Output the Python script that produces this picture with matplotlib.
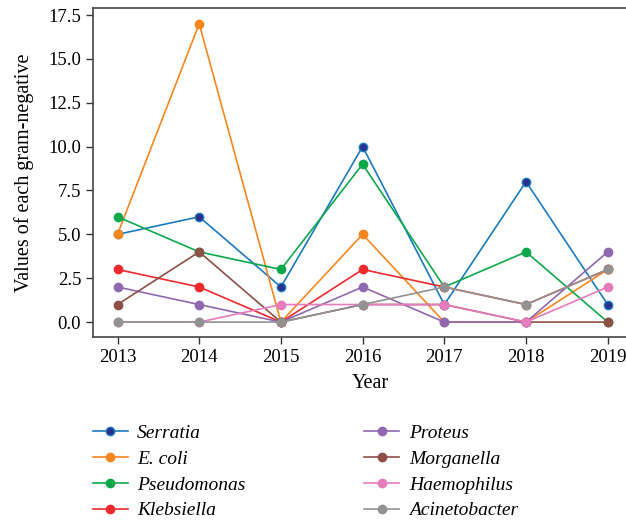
import matplotlib
matplotlib.use("Agg")
import matplotlib.pyplot as plt

years = [2013, 2014, 2015, 2016, 2017, 2018, 2019]

serratia = [5, 6, 2, 10, 1, 8, 1]
ecoli = [5, 17, 0, 5, 0, 0, 3]
pseudomonas = [6, 4, 3, 9, 2, 4, 0]
klebsiella = [3, 2, 0, 3, 2, 1, 3]
proteus = [2, 1, 0, 2, 0, 0, 4]
morganella = [1, 4, 0, 1, 1, 0, 0]
haemophilus = [0, 0, 1, 1, 1, 0, 2]
acinetobacter = [0, 0, 0, 1, 2, 1, 3]

names = ["Serratia", "E. coli", "Pseudomonas", "Klebsiella",
         "Proteus", "Morganella", "Haemophilus", "Acinetobacter"]
series = [serratia, ecoli, pseudomonas, klebsiella,
          proteus, morganella, haemophilus, acinetobacter]
colors = ["#1a7ac0", "#f7861f", "#0ea84c", "#ec2a2e",
          "#8f68b0", "#8c5046", "#e67bbd", "#929292"]
faces = ["#2b2f8e"] + colors[1:]

plt.rcParams["font.family"] = ["Liberation Serif", "DejaVu Serif"]

fig = plt.figure(figsize=(6.26, 5.23), dpi=100)
ax = fig.add_axes([93 / 626, 1 - 337 / 523, 6.8 * 81.7 / 626, 329 / 523])

for name, vals, c, fc in zip(names, series, colors, faces):
    ax.plot(years, vals, color=c, lw=1.2, marker="o", markersize=6,
            markerfacecolor=fc, markeredgecolor=c, markeredgewidth=1.0, label=name)

ax.set_xlim(2012.7, 2019.5)
ax.set_ylim(-0.85, 17.9)
ax.set_xticks(years)
ax.set_yticks([0, 2.5, 5, 7.5, 10, 12.5, 15, 17.5])
ax.set_yticklabels(["0.0", "2.5", "5.0", "7.5", "10.0", "12.5", "15.0", "17.5"])
ax.tick_params(labelsize=13.5, length=5, width=1, color="#333333")
ax.spines["right"].set_visible(False)
for s in ["left", "bottom", "top"]:
    ax.spines[s].set_color("#444444")
    ax.spines[s].set_linewidth(1.2)

ax.set_xlabel("Year", fontsize=14.5, labelpad=6)
ax.set_ylabel("Values of each gram-negative", fontsize=14.5, labelpad=10)

leg = fig.legend(loc="upper left", bbox_to_anchor=(75 / 626, 1 - 407 / 523), ncol=2,
                 frameon=False, prop={"style": "italic", "size": 14},
                 columnspacing=6.1, handlelength=1.8, handletextpad=0.5,
                 labelspacing=0.42)

fig.savefig("out.png", dpi=100)
